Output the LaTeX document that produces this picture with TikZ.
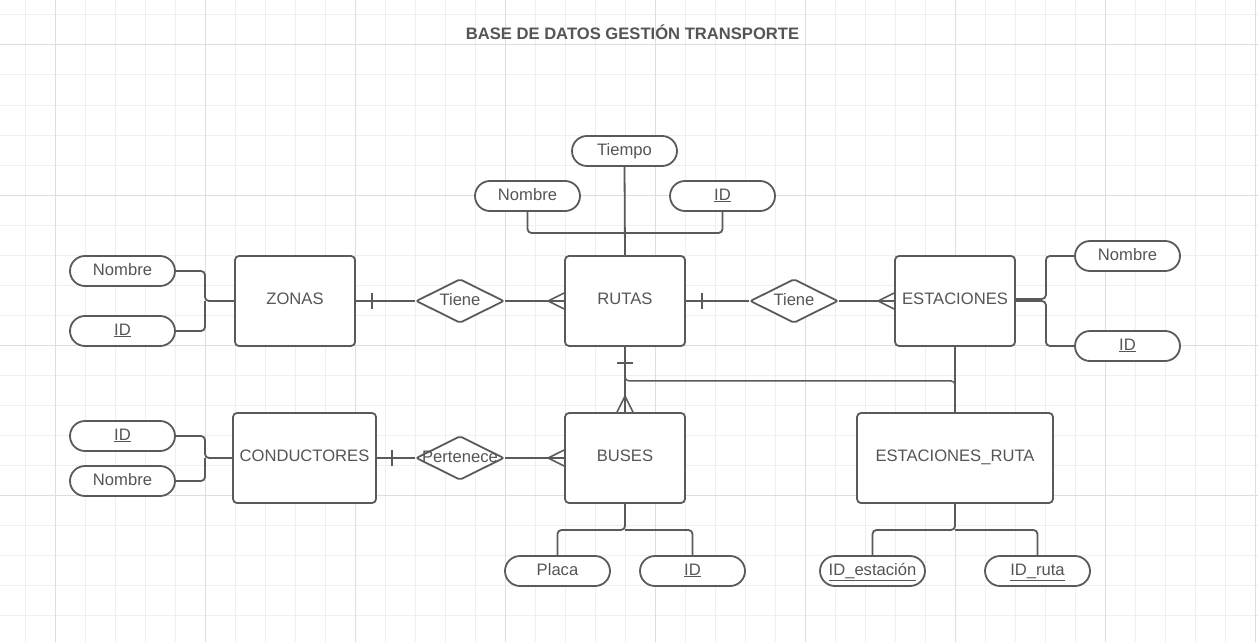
\documentclass[tikz,border=0pt]{standalone}
\usepackage{fontspec}
\setmainfont{Liberation Sans}
\usetikzlibrary{shapes.geometric}
\definecolor{ink}{HTML}{555555}
\definecolor{edge}{HTML}{5A5A5A}
\definecolor{gridminor}{HTML}{EFEFEF}
\definecolor{gridmajor}{HTML}{DEDEDE}
\begin{document}
\begin{tikzpicture}[x=1pt,y=-1pt,
  font=\fontsize{16.6}{18}\selectfont, text=ink,
  entity/.style={draw=edge, line width=1.8pt, rounded corners=4pt, fill=white,
    minimum height=90pt, inner sep=0pt, text height=12pt, text depth=5.5pt},
  attr/.style={draw=edge, line width=1.8pt, rounded corners=15pt, fill=white,
    minimum width=105pt, minimum height=30pt, inner sep=0pt, text height=12pt, text depth=4pt},
  rel/.style={draw=edge, line width=1.8pt, diamond, fill=white, rounded corners=2pt,
    minimum width=88pt, minimum height=44pt, inner sep=0pt},
  rellabel/.style={text=ink, inner sep=0pt, text height=12pt, text depth=4pt},
  conn/.style={draw=edge, line width=1.8pt, rounded corners=4pt},
  thinconn/.style={draw=edge, line width=1.4pt, rounded corners=4pt},
  tick/.style={draw=edge, line width=1.6pt}
]
% background and grid
\useasboundingbox (0,0) rectangle (1258,642);
\fill[white] (0,0) rectangle (1258,642);
\foreach \x in {25,55,...,1255} \draw[gridminor, line width=1pt] (\x,0) -- (\x,642);
\foreach \y in {15,45,...,640} \draw[gridminor, line width=1pt] (0,\y) -- (1258,\y);
\foreach \x in {55,205,...,1255} \draw[gridmajor, line width=1pt] (\x,0) -- (\x,642);
\foreach \y in {45,195,...,640} \draw[gridmajor, line width=1pt] (0,\y) -- (1258,\y);

% title
\node (title) at (632.5,32) {\fontsize{16.6}{18}\selectfont\bfseries BASE DE DATOS GESTIÓN TRANSPORTE};

% entities
\node[entity, minimum width=120pt] (zonas) at (295,301) {ZONAS};
\node[entity, minimum width=120pt] (rutas) at (625,301) {RUTAS};
\node[entity, minimum width=120pt] (estaciones) at (955,301) {ESTACIONES};
\node[entity, minimum width=143pt] (conductores) at (304.5,458) {CONDUCTORES};
\node[entity, minimum width=120pt] (buses) at (625,458) {BUSES};
\node[entity, minimum width=196pt] (er) at (955,458) {ESTACIONES\_RUTA};

% relationships
\node[rel, label={[rellabel]center:Tiene}] (r1) at (460,301) {};
\node[rel, label={[rellabel]center:Tiene}] (r2) at (794,301) {};
\node[rel, label={[rellabel]center:Pertenece}] (r3) at (460,458) {};

% attributes
\node[attr] (zn) at (122.5,271) {Nombre};
\node[attr] (zi) at (122.5,331) {\underline{ID}};
\node[attr] (rt) at (624.5,151) {Tiempo};
\node[attr] (rn) at (527.5,196) {Nombre};
\node[attr] (ri) at (722.5,196) {\underline{ID}};
\node[attr] (en) at (1127.5,256) {Nombre};
\node[attr] (ei) at (1127.5,346) {\underline{ID}};
\node[attr] (ci) at (122.5,436) {\underline{ID}};
\node[attr] (cn) at (122.5,481) {Nombre};
\node[attr] (bp) at (557.5,571) {Placa};
\node[attr] (bi) at (692.5,571) {\underline{ID}};
\node[attr] (ee) at (872.5,571) {\underline{ID\_estación}};
\node[attr] (eu) at (1037.5,571) {\underline{ID\_ruta}};

% named junctions
\coordinate (zj) at (205,301);
\coordinate (rj) at (625,233);
\coordinate (cj) at (205,458);
\coordinate (bj) at (625,530);
\coordinate (erj) at (955,530);

% attribute connectors
\draw[conn] (zn.east) -| (zj) -- (zonas.west);
\draw[conn] (zi.east) -| (zj);
\draw[conn] (rn.south) |- (rj);
\draw[conn] (ri.south) |- (rj);
\draw[conn] (rt.south) -- (rutas.north);
\draw[conn] ([yshift=2pt]estaciones.east) -- ++(30,0) |- (en.west);
\draw[conn] (estaciones.east) -- ++(30,0) |- (ei.west);
\draw[conn] (ci.east) -| (cj) -- (conductores.west);
\draw[conn] (cn.east) -| (cj);
\draw[conn] (buses.south) -- (bj) -| (bp.north);
\draw[conn] (bj) -| (bi.north);
\draw[conn] (er.south) -- (erj) -| (ee.north);
\draw[conn] (erj) -| (eu.north);

% relationship connectors
\draw[conn] (zonas) -- (r1);
\draw[conn] (r1) -- (rutas);
\draw[conn] (rutas) -- (r2);
\draw[conn] (r2) -- (estaciones);
\draw[conn] (conductores) -- (r3);
\draw[conn] (r3) -- (buses);
\draw[conn] (rutas) -- (buses);
\draw[conn] (estaciones) -- (er);
\draw[thinconn] (rutas.south) -- ++(0,34) -| (er.north);

% one-side bars
\draw[tick] ([xshift=16pt,yshift=-8pt]zonas.east) -- ([xshift=16pt,yshift=8pt]zonas.east);
\draw[tick] ([xshift=16pt,yshift=-8pt]rutas.east) -- ([xshift=16pt,yshift=8pt]rutas.east);
\draw[tick] ([xshift=15pt,yshift=-8pt]conductores.east) -- ([xshift=15pt,yshift=8pt]conductores.east);
\draw[tick] ([xshift=-8pt,yshift=-16pt]rutas.south) -- ([xshift=8pt,yshift=-16pt]rutas.south);

% many-side crow's feet
\draw[tick] ([yshift=8pt]rutas.west) -- ([xshift=-16pt]rutas.west) -- ([yshift=-8pt]rutas.west);
\draw[tick] ([yshift=8pt]estaciones.west) -- ([xshift=-16pt]estaciones.west) -- ([yshift=-8pt]estaciones.west);
\draw[tick] ([yshift=8pt]buses.west) -- ([xshift=-16pt]buses.west) -- ([yshift=-8pt]buses.west);
\draw[tick] ([xshift=-8pt]buses.north) -- ([yshift=16pt]buses.north) -- ([xshift=8pt]buses.north);
\end{tikzpicture}
\end{document}
